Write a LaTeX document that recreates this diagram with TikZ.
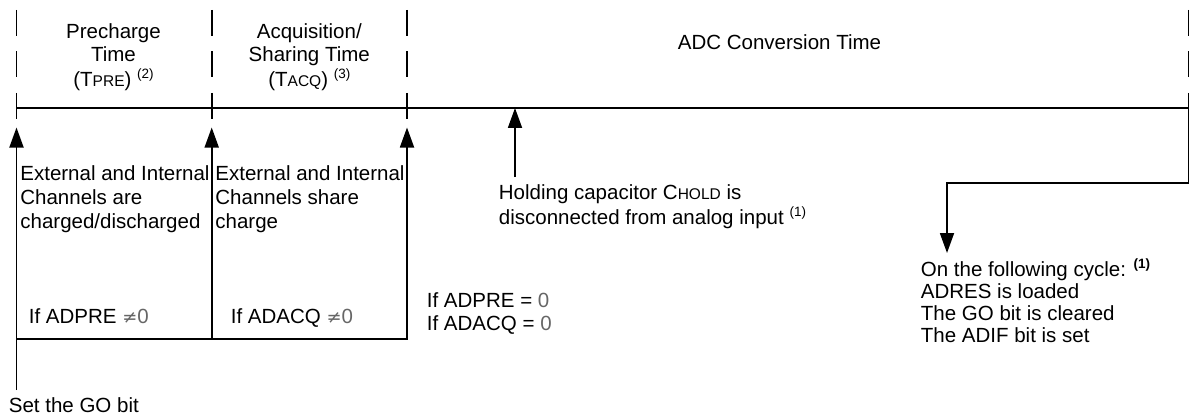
\documentclass[tikz,border=0pt]{standalone}
\usepackage{fontspec}
\setmainfont{Liberation Sans}
\newfontfamily\symfont{DejaVu Sans}
\usetikzlibrary{arrows.meta}
\newcommand{\smcap}[1]{{\fontsize{15.5}{15.5}\selectfont #1}}
\newcommand{\supnote}[1]{\raisebox{8pt}{\fontsize{13.5}{13.5}\selectfont #1}}
\newcommand{\lightzero}{{\color{black!60}0}}
\newcommand{\neqsign}{{\symfont\fontsize{18}{18}\selectfont\color{black!60}≠}}
\begin{document}
\begin{tikzpicture}[x=1pt,y=-1pt, line width=1.8pt,
  arr/.style={-{Triangle[length=20pt,width=14pt]}},
  tick/.style={dash pattern=on 26pt off 15.5pt},
  lbl/.style={inner sep=0pt, anchor=base west},
  hdr/.style={inner sep=0pt, anchor=base}]
\useasboundingbox (0,0) rectangle (1193,417);
% dashed ticks
\coordinate (d1t) at (16.5,10);  \coordinate (d1b) at (16.5,119);
\coordinate (d2t) at (211.7,10); \coordinate (d2b) at (211.7,119);
\coordinate (d3t) at (407,10);   \coordinate (d3b) at (407,119);
\coordinate (d4t) at (1188.5,10); \coordinate (d4b) at (1188.5,119);
\foreach \i in {1,2,3,4} \draw[tick] (d\i t) -- (d\i b);
% timeline
\coordinate (tlL) at (16.5,108); \coordinate (tlR) at (1188.5,108);
\draw (tlL) -- (tlR);
% arrows up
\coordinate (a1) at (16.5,127.5); \coordinate (a2) at (211.7,127.5); \coordinate (a3) at (407,127.5);
\coordinate (g0) at (16.5,390);
\coordinate (b1) at (16.5,339); \coordinate (b2) at (211.7,339); \coordinate (b3) at (407,339);
\draw[arr] (g0) -- (a1);
\draw[arr] (b2) -- (a2);
\draw[arr] (b1) -- (b3) -- (a3);
% holding arrow
\coordinate (h0) at (515,177); \coordinate (h1) at (515,108);
\draw[arr] (h0) -- (h1);
% right connector
\coordinate (r0) at (1188.5,108); \coordinate (r1) at (1188.5,183);
\coordinate (r2) at (947,183); \coordinate (r3) at (947,253);
\draw[arr] (r0) -- (r1) -- (r2) -- (r3);
% headers
\node[hdr, font=\fontsize{20.5}{23}\selectfont] (pre) at (113.5,39)
  {\begin{tabular}[t]{@{}c@{}}Precharge\\Time\\(T\smcap{PRE})\ \supnote{(2)}\end{tabular}};
\node[hdr, font=\fontsize{20.5}{23}\selectfont] (acq) at (309.3,39)
  {\begin{tabular}[t]{@{}c@{}}Acquisition/\\Sharing Time\\(T\smcap{ACQ})\ \supnote{(3)}\end{tabular}};
\node[hdr, font=\fontsize{20.5}{23}\selectfont] (adc) at (779.5,50) {ADC Conversion Time};
% labels
\node[lbl, font=\fontsize{20.5}{24}\selectfont] (ext1) at (19.5,180)
  {\begin{tabular}[t]{@{}l@{}}External and Internal\\Channels are\\charged/discharged\end{tabular}};
\node[lbl, font=\fontsize{20.5}{24}\selectfont] (ext2) at (214.5,180)
  {\begin{tabular}[t]{@{}l@{}}External and Internal\\Channels share\\charge\end{tabular}};
\node[lbl, font=\fontsize{20.5}{24}\selectfont] (ifpre) at (28,323) {If ADPRE \neqsign\lightzero};
\node[lbl, font=\fontsize{20.5}{24}\selectfont] (ifacq) at (230,323) {If ADACQ \neqsign\lightzero};
\node[lbl, font=\fontsize{20.5}{23}\selectfont] (ifz) at (426,307)
  {\begin{tabular}[t]{@{}l@{}}If ADPRE = \lightzero\\If ADACQ = \lightzero\end{tabular}};
\node[lbl, font=\fontsize{20.5}{24.5}\selectfont] (hold) at (498,199)
  {\begin{tabular}[t]{@{}l@{}}Holding capacitor C\smcap{HOLD} is\\disconnected from analog input \supnote{(1)}\end{tabular}};
\node[lbl, font=\fontsize{20.5}{22}\selectfont] (cyc) at (920,276)
  {\begin{tabular}[t]{@{}l@{}}On the following cycle: \supnote{\bfseries (1)}\\ADRES is loaded\\The GO bit is cleared\\The ADIF bit is set\end{tabular}};
\node[lbl, font=\fontsize{20.5}{24}\selectfont] (go) at (8,412) {Set the GO bit};
\end{tikzpicture}
\end{document}
